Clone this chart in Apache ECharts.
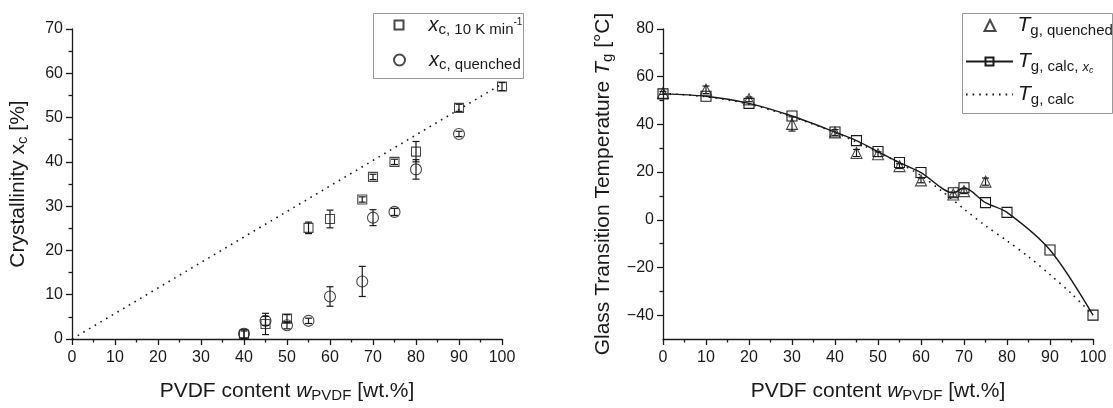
<!DOCTYPE html>
<html>
<head>
<meta charset="utf-8">
<script src="https://cdn.jsdelivr.net/npm/echarts@6/dist/echarts.min.js"></script>
<style>
  html, body { margin: 0; padding: 0; background: #fff; }
  #chart { width: 1113px; height: 408px; }
</style>
</head>
<body>
<div id="chart"></div>
<script>
// left panel: crystallinity
const crystX = [40, 45, 50, 55, 60, 67.5, 70, 75, 80, 90, 100];
const xc10K = [1.0, 3.4, 4.6, 25.1, 27.1, 31.5, 36.6, 40.0, 42.3, 52.2, 57.0];
const xc10KErr = [0.8, 2.4, 0.9, 1.3, 2.0, 0.6, 0.6, 0.6, 2.3, 0.8, 0.9];
const quenchX = [40, 45, 50, 55, 60, 67.5, 70, 75, 80, 90];
const xcQuenched = [1.2, 4.1, 3.1, 4.1, 9.6, 13.0, 27.4, 28.7, 38.3, 46.3];
const xcQuenchedErr = [1.0, 1.0, 0.8, 0.6, 2.2, 3.4, 1.8, 0.8, 2.2, 0.6];
const xcLineX = [0, 100];
const xcLine = [0, 57.6];

// right panel: glass transition temperature
const tgCalcX = [0, 10, 20, 30, 40, 45, 50, 55, 60, 67.5, 70, 75, 80, 90, 100];
const tgCalcXc = [52.8, 51.8, 48.8, 43.5, 36.8, 33.2, 28.6, 24.0, 19.8, 11.3, 13.4, 7.2, 3.1, -12.7, -40];
const tgQuenchX = [0, 10, 20, 30, 40, 45, 50, 55, 60, 67.5, 70, 75];
const tgQuenched = [53.2, 54.5, 50.5, 40.2, 36.6, 28.0, 27.5, 22.5, 16.5, 10.6, 12.0, 16.0];
const tgQuenchedErr = [0.6, 1.6, 1.0, 3.0, 1.2, 1.5, 1.0, 1.0, 1.0, 1.0, 1.0, 1.5];
const tgCalcLineX = [0, 10, 20, 30, 40, 50, 55, 60, 65, 70, 75, 80, 85, 90, 95, 100];
const tgCalc = [53, 51.6, 48.5, 43.2, 36.6, 28.3, 23.8, 18.5, 11.8, 4.5, -2.5, -8.8, -15.5, -23, -31, -40];

// tick labels
const tgMajorTicks = [-40, -20, 0, 20, 40, 60, 80];
const tgMinorTicks = [-30, -10, 10, 30, 50, 70];

const FONT = '"Liberation Sans", Arial, sans-serif';
const INK = '#1a1a1a';
const HOLLOW = 'rgba(255,255,255,0)';

const pairs = (xs, ys) => xs.map((x, i) => [x, ys[i]]);
const errRows = (xs, ys, es) => xs.map((x, i) => [x, ys[i] - es[i], ys[i] + es[i]]);

const renderErr = (params, api) => {
  const x = api.value(0);
  const top = api.coord([x, api.value(2)]);
  const bot = api.coord([x, api.value(1)]);
  const w = 3.5;
  const st = { stroke: INK, lineWidth: 1.2 };
  return {
    type: 'group',
    children: [
      { type: 'line', shape: { x1: top[0], y1: top[1], x2: bot[0], y2: bot[1] }, style: st },
      { type: 'line', shape: { x1: top[0] - w, y1: top[1], x2: top[0] + w, y2: top[1] }, style: st },
      { type: 'line', shape: { x1: bot[0] - w, y1: bot[1], x2: bot[0] + w, y2: bot[1] }, style: st },
    ],
  };
};

const rich = {
  n: { fontSize: 21, fontFamily: FONT, color: INK },
  i: { fontSize: 21, fontFamily: FONT, fontStyle: 'italic', color: INK },
  s: { fontSize: 15, fontFamily: FONT, color: INK, padding: [9, 0, 0, 0] },
  ls: { fontSize: 15, fontFamily: FONT, color: INK, padding: [10, 0, 0, 0] },
  li: { fontSize: 20, fontFamily: FONT, fontStyle: 'italic', color: INK },
  lsi: { fontSize: 13, fontFamily: FONT, fontStyle: 'italic', color: INK, padding: [12, 0, 0, 0] },
  lss: { fontSize: 9, fontFamily: FONT, fontStyle: 'italic', color: INK, padding: [18, 0, 0, 0] },
  sup: { fontSize: 10, fontFamily: FONT, color: INK, padding: [0, 0, 6, 0] },
  g20: { width: 20 },
  g19: { width: 19 },
  g17: { width: 17 },
};

const axisCommon = {
  axisLine: { show: true, onZero: false, lineStyle: { color: INK, width: 1.3 } },
  axisTick: { show: true, inside: false, length: 6, lineStyle: { color: INK, width: 1.3 } },
  minorTick: { show: true, splitNumber: 2, length: 3.5, lineStyle: { color: INK, width: 1.3 } },
  splitLine: { show: false },
  axisLabel: { color: INK, fontSize: 16, fontFamily: FONT, margin: 9,
    formatter: (v) => String(v).replace('-', '\u2212') },
};

const xAxisFor = (gridIndex) => ({
  ...axisCommon,
  type: 'value', gridIndex, min: 0, max: 100, interval: 10,
  axisLabel: { ...axisCommon.axisLabel, margin: 11 },
  name: '{n|PVDF content }{i|w}{s|PVDF}{n| [wt.%]}',
  nameLocation: 'middle', nameGap: 40,
  nameTextStyle: { rich },
});

const legendText = { rich };

const chart = echarts.init(document.getElementById('chart'));
chart.setOption({
  animation: false,
  backgroundColor: '#fff',
  grid: [
    { left: 72, right: 611, top: 29, bottom: 64 },
    { left: 663, right: 20, top: 29, bottom: 63 },
  ],
  xAxis: [xAxisFor(0), xAxisFor(1)],
  yAxis: [
    {
      ...axisCommon,
      type: 'value', gridIndex: 0, min: 0, max: 70, interval: 10,
      name: '{n|Crystallinity x}{s|c}{n| [%]}',
      nameLocation: 'middle', nameGap: 42,
      nameTextStyle: { rich },
    },
    {
      ...axisCommon,
      type: 'value', gridIndex: 1, min: -50, max: 80, interval: 10,
      minorTick: { show: false },
      axisTick: { ...axisCommon.axisTick, customValues: tgMajorTicks },
      axisLabel: { ...axisCommon.axisLabel, customValues: tgMajorTicks },
      name: '{n|Glass Transition Temperature }{i|T}{s|g}{n| [°C]}',
      nameLocation: 'middle', nameGap: 48,
      nameTextStyle: { rich },
    },
    {
      type: 'value', gridIndex: 1, min: -50, max: 80, position: 'left',
      axisLine: { show: false },
      axisLabel: { show: false },
      splitLine: { show: false },
      axisTick: { show: true, length: 3.5, customValues: tgMinorTicks, lineStyle: { color: INK, width: 1.3 } },
    },
  ],
  legend: [
    { left: 393.5, top: 15, itemWidth: 9, itemHeight: 9, padding: 0, data: ['xc10K'],
      formatter: () => '{g20| }{li|x}{ls|c, 10 K min}{sup|-1}', textStyle: legendText },
    { left: 393, top: 50, itemWidth: 11, itemHeight: 11, padding: 0, data: ['xcQ'],
      formatter: () => '{g19| }{li|x}{ls|c, quenched}', textStyle: legendText },
    { left: 983.5, top: 15, itemWidth: 11, itemHeight: 11, padding: 0, data: ['tgQ'],
      formatter: () => '{g17| }{i|T}{ls|g, quenched}', textStyle: legendText },
    { left: 965, top: 51, itemWidth: 47, itemHeight: 10, padding: 0, data: ['tgXc'],
      formatter: () => '{i|T}{ls|g, calc, }{lsi|x}{lss|c}', textStyle: legendText },
    { left: 965, top: 84, itemWidth: 47, itemHeight: 10, padding: 0, data: ['tgCalc'],
      formatter: () => '{i|T}{ls|g, calc}', textStyle: legendText },
  ],
  graphic: [
    { type: 'rect', left: 373, top: 13, shape: { width: 150, height: 65 },
      style: { fill: '#fff', stroke: '#999', lineWidth: 1 }, z: -1 },
    { type: 'rect', left: 962, top: 13, shape: { width: 150, height: 100 },
      style: { fill: '#fff', stroke: '#999', lineWidth: 1 }, z: -1 },
  ],
  series: [
    {
      name: 'xcLine', type: 'line', xAxisIndex: 0, yAxisIndex: 0,
      data: pairs(xcLineX, xcLine), symbol: 'none',
      itemStyle: { color: HOLLOW },
      lineStyle: { color: INK, width: 1.6, type: [1.6, 5] },
    },
    {
      type: 'custom', xAxisIndex: 0, yAxisIndex: 0, renderItem: renderErr,
      encode: { x: 0, y: [1, 2] }, data: errRows(crystX, xc10K, xc10KErr),
    },
    {
      type: 'custom', xAxisIndex: 0, yAxisIndex: 0, renderItem: renderErr,
      encode: { x: 0, y: [1, 2] }, data: errRows(quenchX, xcQuenched, xcQuenchedErr),
    },
    {
      name: 'xc10K', type: 'scatter', xAxisIndex: 0, yAxisIndex: 0,
      data: pairs(crystX, xc10K), symbol: 'rect', symbolSize: 9,
      itemStyle: { color: HOLLOW, borderColor: INK, borderWidth: 1.1 },
    },
    {
      name: 'xcQ', type: 'scatter', xAxisIndex: 0, yAxisIndex: 0,
      data: pairs(quenchX, xcQuenched), symbol: 'circle', symbolSize: 11,
      itemStyle: { color: HOLLOW, borderColor: INK, borderWidth: 1.1 },
    },
    {
      name: 'tgCalc', type: 'line', xAxisIndex: 1, yAxisIndex: 1,
      data: pairs(tgCalcLineX, tgCalc), symbol: 'none', smooth: 0.3,
      itemStyle: { color: HOLLOW, borderColor: HOLLOW },
      lineStyle: { color: INK, width: 1.6, type: [1.6, 5] },
    },
    {
      name: 'tgXc', type: 'line', xAxisIndex: 1, yAxisIndex: 1,
      data: pairs(tgCalcX, tgCalcXc), smooth: 0.3,
      symbol: 'rect', symbolSize: 10, showSymbol: true,
      lineStyle: { color: INK, width: 1.4 },
      itemStyle: { color: HOLLOW, borderColor: INK, borderWidth: 1.1 },
    },
    {
      type: 'custom', xAxisIndex: 1, yAxisIndex: 1, renderItem: renderErr,
      encode: { x: 0, y: [1, 2] }, data: errRows(tgQuenchX, tgQuenched, tgQuenchedErr),
    },
    {
      name: 'tgQ', type: 'scatter', xAxisIndex: 1, yAxisIndex: 1,
      data: pairs(tgQuenchX, tgQuenched), symbol: 'triangle', symbolSize: 11,
      itemStyle: { color: HOLLOW, borderColor: INK, borderWidth: 1.1 },
    },
  ],
});
</script>
</body>
</html>
